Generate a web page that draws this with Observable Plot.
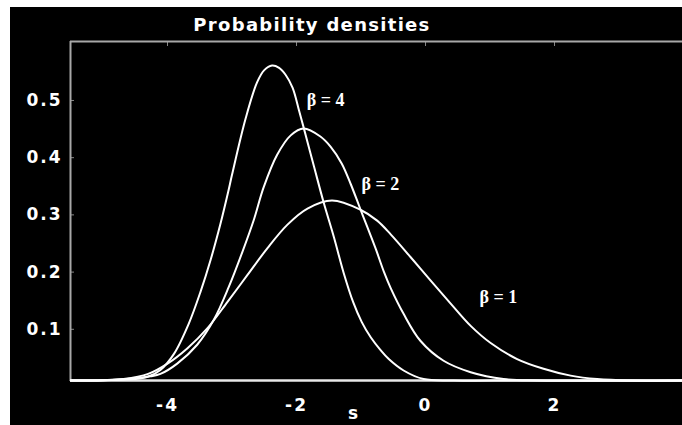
<!DOCTYPE html>
<html><head><meta charset="utf-8">
<script src="https://cdn.jsdelivr.net/npm/d3@7"></script>
<script src="https://cdn.jsdelivr.net/npm/@observablehq/plot@0.6"></script>
<style>
html,body{margin:0;padding:0;background:#fff;}
#wrap{position:absolute;left:10px;top:7px;width:672px;height:418px;background:#000;overflow:hidden;}
#title{position:absolute;top:7px;left:302px;transform:translateX(-50%);color:#fff;font:bold 18px "DejaVu Sans";letter-spacing:1.3px;white-space:nowrap;}
#xlabel{position:absolute;left:343px;top:396px;transform:translateX(-50%);color:#fff;font:bold 17px "DejaVu Sans";}
.chart g[aria-label="y-axis tick label"] text, .chart g[aria-label="x-axis tick label"] text{letter-spacing:2px;}
</style></head><body>
<div id="wrap"></div>
<script>
// Series values (s, density)
const sBeta4 = [-5.50,-5.00,-4.52,-4.31,-4.11,-3.90,-3.67,-3.49,-3.33,-3.18,-3.06,-3.00,-2.79,-2.61,-2.50,-2.38,-2.27,-2.17,-2.06,-1.96,-1.89,-1.73,-1.58,-1.42,-1.27,-1.12,-0.99,-0.85,-0.70,-0.57,-0.34,-0.03,0.44,1.50,3.98];
const vBeta4 = [0.0105,0.011,0.013,0.017,0.029,0.057,0.110,0.165,0.222,0.284,0.340,0.370,0.468,0.532,0.553,0.561,0.557,0.545,0.522,0.482,0.453,0.385,0.322,0.261,0.199,0.147,0.113,0.086,0.064,0.048,0.028,0.013,0.0105,0.0105,0.0105];
const sBeta2 = [-5.50,-4.80,-4.26,-4.11,-3.85,-3.54,-3.28,-3.05,-2.84,-2.66,-2.51,-2.30,-2.09,-1.89,-1.63,-1.47,-1.30,-1.16,-1.03,-0.90,-0.77,-0.64,-0.54,-0.34,-0.08,0.28,0.70,1.21,1.73,3.98];
const vBeta2 = [0.0105,0.012,0.018,0.022,0.040,0.073,0.117,0.174,0.235,0.292,0.348,0.405,0.439,0.451,0.437,0.419,0.390,0.354,0.316,0.278,0.240,0.199,0.172,0.127,0.080,0.045,0.025,0.013,0.0105,0.0105];
const sBeta1 = [-5.50,-5.00,-4.68,-4.30,-4.00,-3.69,-3.38,-3.07,-2.76,-2.45,-2.14,-1.83,-1.45,-1.01,-0.75,-0.54,-0.23,0.08,0.39,0.70,1.01,1.42,1.83,2.25,2.66,3.18,3.98];
const vBeta1 = [0.0105,0.011,0.013,0.022,0.040,0.067,0.102,0.148,0.195,0.242,0.283,0.311,0.325,0.309,0.290,0.266,0.226,0.185,0.145,0.106,0.076,0.048,0.031,0.019,0.013,0.0105,0.0105];
const seriesNames = ["β = 4", "β = 2", "β = 1"];
const labelS = [-1.55, -0.70, 1.13];
const labelV = [0.500, 0.353, 0.156];
const xTicks = [-4, -2, 0, 2];
const yTicks = [0.1, 0.2, 0.3, 0.4, 0.5];
const xDomain = [-5.504, 3.984];
const yDomain = [0.0105, 0.6031];
const titleText = "Probability densities";
const xLabelText = "s";

const rows = [];
[[sBeta4, vBeta4], [sBeta2, vBeta2], [sBeta1, vBeta1]].forEach(([s, v], i) => {
  s.forEach((x, j) => rows.push({series: seriesNames[i], s: x, v: v[j]}));
});
const labels = seriesNames.map((name, i) => ({name, s: labelS[i], v: labelV[i]}));

const chart = Plot.plot({
  className: "chart",
  width: 672, height: 418,
  marginLeft: 60, marginRight: 0, marginTop: 34, marginBottom: 45,
  style: {background: "#000", color: "#fff", fontFamily: "DejaVu Sans", fontWeight: "bold", fontSize: "17px"},
  x: {domain: xDomain},
  y: {domain: yDomain},
  marks: [
    Plot.axisX({ticks: xTicks, tickSize: 0, tickPadding: 18, label: null, tickFormat: d => (d < 0 ? "-" : "") + Math.abs(d)}),
    Plot.axisX({anchor: "top", ticks: xTicks, tickSize: -4, stroke: "#888", tickFormat: () => "", label: null}),
    Plot.axisY({ticks: yTicks, tickSize: 0, tickPadding: 8, label: null, tickFormat: d => String(d)}),
    Plot.axisY({ticks: yTicks, tickSize: -4, stroke: "#888", tickFormat: () => "", label: null}),
    Plot.ruleX([xDomain[0]], {stroke: "#a8a8a8", strokeWidth: 2}),
    Plot.ruleY([yDomain[1]], {stroke: "#a8a8a8", strokeWidth: 2}),
    Plot.ruleY([yDomain[0]], {stroke: "#e8e8e8", strokeWidth: 2.5}),
    Plot.line(rows, {x: "s", y: "v", z: "series", stroke: "#fff", strokeWidth: 2, curve: "catmull-rom"}),
    Plot.text(labels, {x: "s", y: "v", text: "name", fill: "#fff", fontFamily: "Liberation Serif", fontWeight: "bold", fontSize: 18})
  ]
});
const wrap = document.getElementById("wrap");
wrap.appendChild(chart);
const t = document.createElement("div"); t.id = "title"; t.textContent = titleText; wrap.appendChild(t);
const xl = document.createElement("div"); xl.id = "xlabel"; xl.textContent = xLabelText; wrap.appendChild(xl);
</script>
</body></html>
